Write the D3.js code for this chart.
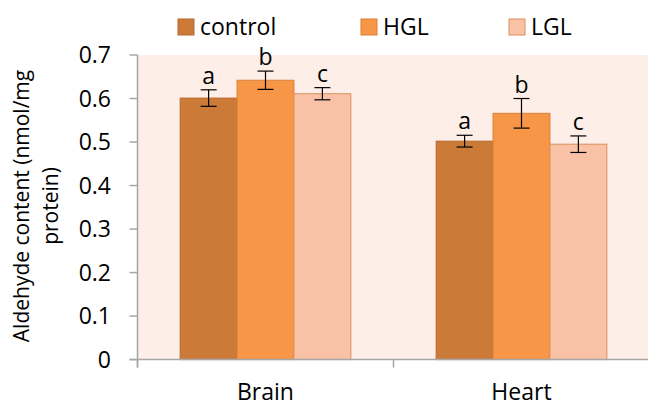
<!DOCTYPE html>
<html><head><meta charset="utf-8">
<script src="https://cdn.jsdelivr.net/npm/d3@7"></script>
<style>html,body{margin:0;padding:0;background:#fff;overflow:hidden}</style>
</head><body><svg id="c" width="648" height="407"></svg>
<script>
const categories = ["Brain", "Heart"];
const series = ["control", "HGL", "LGL"];
const control = [0.601, 0.502];
const HGL = [0.642, 0.566];
const LGL = [0.611, 0.495];
const controlErr = [0.019, 0.0135];
const HGLErr = [0.021, 0.034];
const LGLErr = [0.014, 0.019];
const letters = ["a", "b", "c"];
const yTicks = [0, 0.1, 0.2, 0.3, 0.4, 0.5, 0.6, 0.7];
const colors = ["#CC7A37", "#F79646", "#F9C2A7"];
const strokes = ["#B8692E", "#D9803A", "#D9905E"];

const values = [control, HGL, LGL];
const errs = [controlErr, HGLErr, LGLErr];
const font = "'Open Sans', sans-serif";
const svg = d3.select("#c");
const m = {l: 137.5, r: 649.5, t: 55, b: 359.6};
const y = d3.scaleLinear().domain([0, 0.7]).range([m.b, m.t]);
const x0 = d3.scaleBand().domain(categories).range([m.l, m.r]).paddingInner(0.3333).paddingOuter(0.16667);
const x1 = d3.scaleBand().domain(series).range([0, x0.bandwidth()]);

svg.append("rect").attr("x", m.l).attr("y", m.t).attr("width", m.r - m.l).attr("height", m.b - m.t).attr("fill", "#FDEEE8");

series.forEach((s, si) => {
  const g = svg.append("g");
  categories.forEach((c, ci) => {
    const v = values[si][ci], e = errs[si][ci];
    const bx = x0(c) + x1(s), bw = x1.bandwidth();
    g.append("rect").attr("x", bx).attr("y", y(v)).attr("width", bw).attr("height", y(0) - y(v))
      .attr("fill", colors[si]).attr("stroke", strokes[si]).attr("stroke-width", 1);
    const cx = bx + bw / 2;
    g.append("line").attr("x1", cx).attr("x2", cx).attr("y1", y(v + e)).attr("y2", y(v - e)).attr("stroke", "#000").attr("stroke-width", 1.2);
    [v + e, v - e].forEach(t => g.append("line").attr("x1", cx - 8).attr("x2", cx + 8).attr("y1", y(t)).attr("y2", y(t)).attr("stroke", "#000").attr("stroke-width", 1.2));
    g.append("text").attr("x", cx).attr("y", y(v + e) - 6).attr("text-anchor", "middle")
      .attr("font-family", font).attr("font-size", 23).attr("fill", "#000").text(letters[si]);
  });
});

// y axis
const ya = svg.append("g");
ya.append("line").attr("x1", m.l).attr("x2", m.l).attr("y1", m.t).attr("y2", m.b + 8).attr("stroke", "#A6A6A6").attr("stroke-width", 1.5);
yTicks.forEach(t => {
  ya.append("line").attr("x1", m.l - 8).attr("x2", m.l).attr("y1", y(t)).attr("y2", y(t)).attr("stroke", "#A6A6A6").attr("stroke-width", 1.5);
  ya.append("text").attr("x", 111).attr("y", y(t)).attr("dy", "0.35em").attr("text-anchor", "end")
    .attr("font-family", font).attr("font-size", 23).attr("fill", "#000").text(d3.format(".1~f")(t));
});
// x axis
const xa = svg.append("g");
xa.append("line").attr("x1", m.l - 8).attr("x2", m.r).attr("y1", m.b).attr("y2", m.b).attr("stroke", "#A6A6A6").attr("stroke-width", 1.5);
const bounds = [m.l, (x0("Brain") + x0.bandwidth() + x0("Heart")) / 2, m.r];
bounds.forEach(b => xa.append("line").attr("x1", b).attr("x2", b).attr("y1", m.b).attr("y2", m.b + 8).attr("stroke", "#A6A6A6").attr("stroke-width", 1.5));
categories.forEach(c => xa.append("text").attr("x", x0(c) + x0.bandwidth() / 2).attr("y", 400).attr("text-anchor", "middle")
  .attr("font-family", font).attr("font-size", 23).attr("fill", "#000").text(c));

// y title
const yt = svg.append("text").attr("transform", "translate(0,206) rotate(-90)").attr("text-anchor", "middle")
  .attr("font-family", font).attr("font-size", 21).attr("fill", "#000");
yt.append("tspan").attr("x", 0).attr("y", 29).text("Aldehyde content (nmol/mg");
yt.append("tspan").attr("x", 0).attr("y", 58).text("protein)");

// legend
const legX = [178, 361, 509];
series.forEach((s, i) => {
  svg.append("rect").attr("x", legX[i]).attr("y", 19).attr("width", 16).attr("height", 16)
    .attr("fill", colors[i]).attr("stroke", strokes[i]);
  svg.append("text").attr("x", legX[i] + 22).attr("y", 27).attr("dy", "0.35em")
    .attr("font-family", font).attr("font-size", 23).attr("fill", "#000").text(s);
});
</script></body></html>
